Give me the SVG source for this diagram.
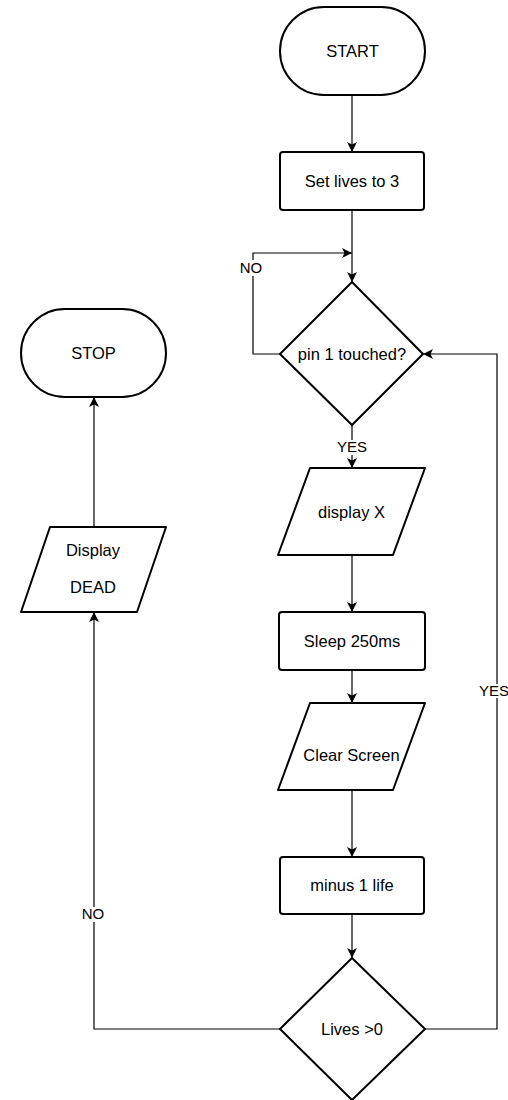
<svg xmlns="http://www.w3.org/2000/svg" width="508" height="1100" viewBox="0 0 508 1100">
<style>
.n{fill:#fff;stroke:#000;stroke-width:2;stroke-linejoin:round}
.t{font-family:"Liberation Sans",Arial,sans-serif;font-size:16.5px;text-anchor:middle;fill:#000}
.l{font-family:"Liberation Sans",Arial,sans-serif;font-size:15px;text-anchor:middle;fill:#000}
.c{fill:none;stroke:#000;stroke-width:1.2}
.bg{fill:#fff}
</style>
<defs>
<marker id="a" viewBox="0 0 10 10" refX="10" refY="5" markerWidth="10" markerHeight="10" markerUnits="userSpaceOnUse" orient="auto">
<path d="M0,0 L10,5 L0,10 L2.5,5 Z" fill="#000"/>
</marker>
</defs>
<rect width="508" height="1100" fill="#fff"/>
<g id="connectors">
<path class="c" d="M352,95 V152" marker-end="url(#a)"/>
<path class="c" d="M352,210 V282" marker-end="url(#a)"/>
<path class="c" d="M280,354 H253 V253 H352" marker-end="url(#a)"/>
<path class="c" d="M352,425 V468" marker-end="url(#a)"/>
<path class="c" d="M352,555 V612" marker-end="url(#a)"/>
<path class="c" d="M352,670 V703" marker-end="url(#a)"/>
<path class="c" d="M352,790 V857" marker-end="url(#a)"/>
<path class="c" d="M352,914 V958" marker-end="url(#a)"/>
<path class="c" d="M280,1029 H94 V612" marker-end="url(#a)"/>
<path class="c" d="M94,527 V397" marker-end="url(#a)"/>
<path class="c" d="M425,1029 H497 V354 H423" marker-end="url(#a)"/>
<rect class="bg" x="239" y="260" width="24" height="16"/>
<text class="l" x="251" y="273">NO</text>
<rect class="bg" x="337" y="440" width="30" height="15"/>
<text class="l" x="352" y="452">YES</text>
<rect class="bg" x="480" y="684" width="32" height="14"/>
<text class="l" x="494" y="696">YES</text>
<rect class="bg" x="80" y="907" width="28" height="15"/>
<text class="l" x="93" y="919">NO</text>
</g>
<g id="start"><rect class="n" x="280" y="7" width="145" height="88" rx="44" ry="44"/><text class="t" x="352.5" y="57">START</text></g>
<g id="setlives"><rect class="n" x="280" y="152" width="144" height="58" rx="3"/><text class="t" x="352" y="187">Set lives to 3</text></g>
<g id="pin"><path class="n" d="M352,282 L423,354 L352,425 L280,354 Z"/><text class="t" x="352" y="360">pin 1 touched?</text></g>
<g id="displayx"><path class="n" d="M310,468 H425 L393,555 H278 Z"/><text class="t" x="351.5" y="518">display X</text></g>
<g id="sleep"><rect class="n" x="279" y="612" width="146" height="58" rx="3"/><text class="t" x="352" y="647">Sleep 250ms</text></g>
<g id="clear"><path class="n" d="M310,703 H425 L393,790 H278 Z"/><text class="t" x="351.5" y="761">Clear Screen</text></g>
<g id="minus"><rect class="n" x="280" y="857" width="144" height="57" rx="3"/><text class="t" x="352" y="891">minus 1 life</text></g>
<g id="lives"><path class="n" d="M352,958 L425,1029 L352,1100 L280,1029 Z"/><text class="t" x="352" y="1035">Lives &gt;0</text></g>
<g id="stop"><rect class="n" x="21" y="309" width="145" height="88" rx="44" ry="44"/><text class="t" x="93.5" y="359">STOP</text></g>
<g id="dead"><path class="n" d="M50,527 H166 L137,612 H21 Z"/><text class="t" x="93" y="556">Display</text><text class="t" x="93" y="593">DEAD</text></g>
</svg>
